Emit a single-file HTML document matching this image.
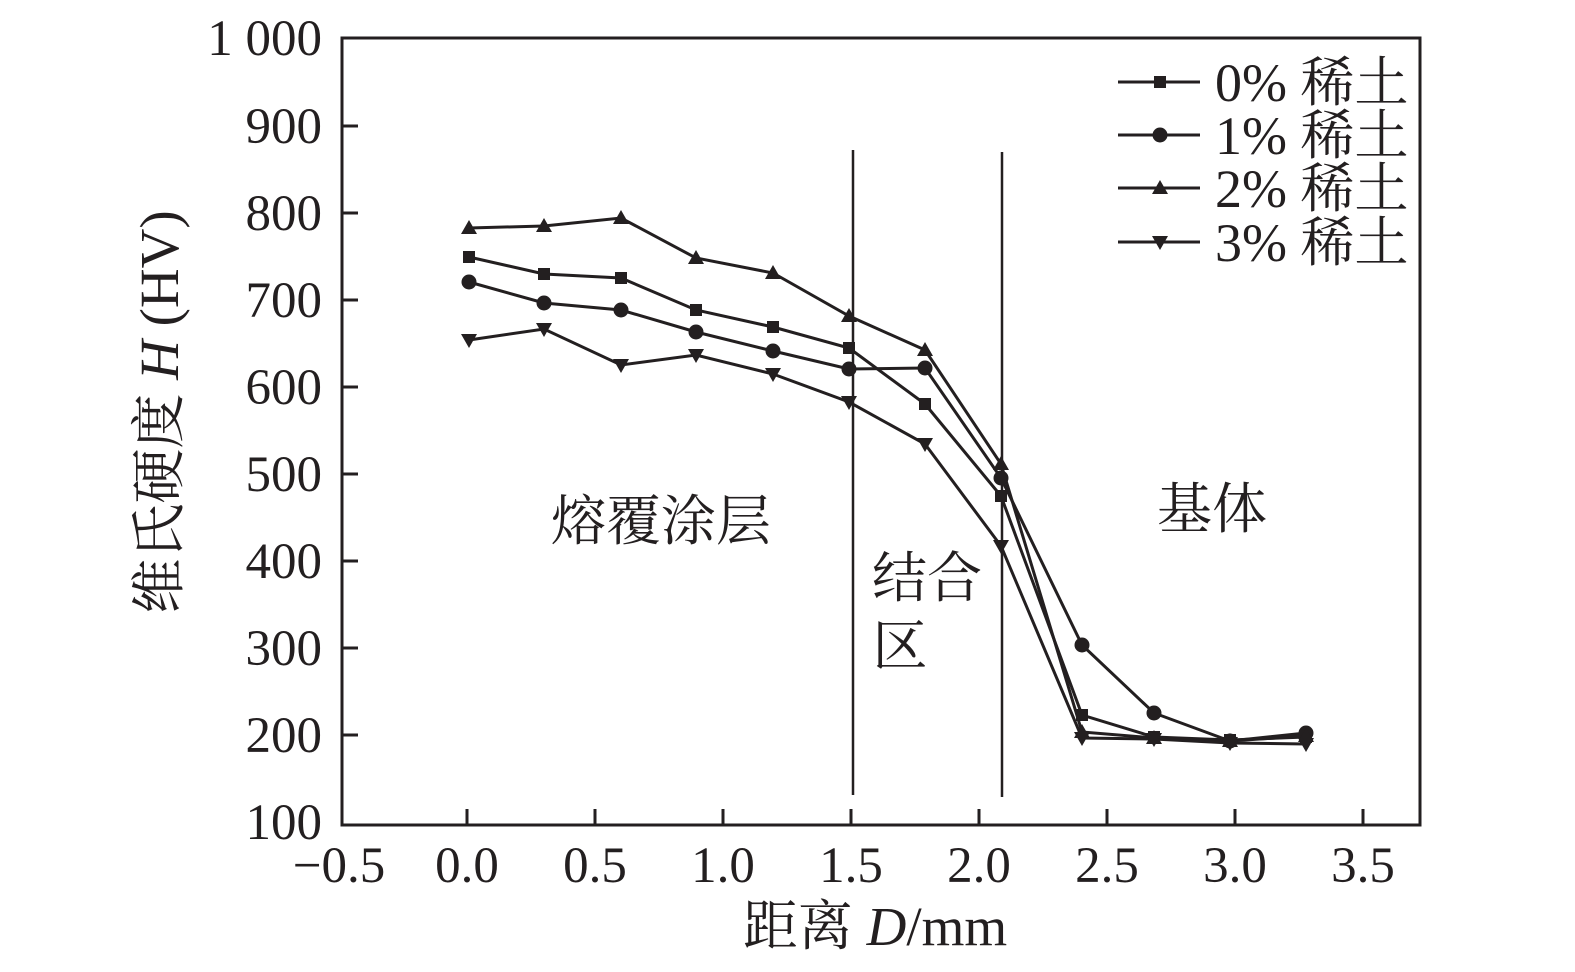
<!DOCTYPE html>
<html><head><meta charset="utf-8"><style>body{margin:0;background:#fff}</style></head><body>
<svg width="1575" height="967" xmlns="http://www.w3.org/2000/svg" font-family="'Liberation Serif','Noto Serif CJK SC',serif" fill="#231f20">
<rect width="1575" height="967" fill="#fff"/>
<g stroke="#231f20" stroke-width="3" fill="none">
<rect x="342" y="38" width="1078" height="787"/>
<path d="M342,126h16M342,213h16M342,300h16M342,387h16M342,474h16M342,561h16M342,648h16M342,735h16"/>
<path d="M467,825v-16M595,825v-16M723,825v-16M851,825v-16M979,825v-16M1107,825v-16M1235,825v-16M1363,825v-16"/>
<path d="M853,150V795M1002,152V797" stroke-width="2.5"/>
</g>
<g font-size="51" text-anchor="end">
<text x="322" y="55">1 000</text><text x="322" y="143">900</text><text x="322" y="230">800</text><text x="322" y="317">700</text><text x="322" y="404">600</text><text x="322" y="491">500</text><text x="322" y="578">400</text><text x="322" y="665">300</text><text x="322" y="752">200</text><text x="322" y="839">100</text>
</g>
<g font-size="51" text-anchor="middle">
<text x="339" y="882">−0.5</text><text x="467" y="882">0.0</text><text x="595" y="882">0.5</text><text x="723" y="882">1.0</text><text x="851" y="882">1.5</text><text x="979" y="882">2.0</text><text x="1107" y="882">2.5</text><text x="1235" y="882">3.0</text><text x="1363" y="882">3.5</text>
</g>
<g font-size="55" text-anchor="middle">
<text x="875" y="945">距离 <tspan font-style="italic">D</tspan>/mm</text>
<text transform="translate(178,412) rotate(-90)">维氏硬度 <tspan font-style="italic">H</tspan> (HV)</text>
<text x="661" y="540">熔覆涂层</text>
<text x="927" y="597">结合</text><text x="900" y="665">区</text>
<text x="1212" y="528">基体</text>
</g>
<g stroke="#231f20" stroke-width="3" fill="none">
<polyline points="469,257 544,274 621,278 696,310 773,327 849,348 925,404 1001,496 1082,715 1154,737 1230,740 1306,737"/>
<polyline points="469,282 544,303 621,310 696,332 773,351 849,369 925,368 1001,478 1082,645 1154,713 1230,741 1306,733"/>
<polyline points="469,228 544,226 621,218 696,258 773,273 849,316 925,350 1001,464 1082,732 1154,738 1230,741 1306,736"/>
<polyline points="469,340 544,329 621,365 696,355 773,374 849,402 925,444 1001,546 1082,738 1154,739 1230,743 1306,744"/>
<path d="M1118,82h82M1118,135h82M1118,188h82M1118,242h82"/>
</g>
<g>
<rect x="1154" y="76" width="12" height="12"/>
<rect x="463" y="251" width="12" height="12"/><rect x="538" y="268" width="12" height="12"/><rect x="615" y="272" width="12" height="12"/><rect x="690" y="304" width="12" height="12"/><rect x="767" y="321" width="12" height="12"/><rect x="843" y="342" width="12" height="12"/><rect x="919" y="398" width="12" height="12"/><rect x="995" y="490" width="12" height="12"/><rect x="1076" y="709" width="12" height="12"/><rect x="1148" y="731" width="12" height="12"/><rect x="1224" y="734" width="12" height="12"/><rect x="1300" y="731" width="12" height="12"/>
<circle cx="1160" cy="135" r="7.5"/>
<circle cx="469" cy="282" r="7.5"/><circle cx="544" cy="303" r="7.5"/><circle cx="621" cy="310" r="7.5"/><circle cx="696" cy="332" r="7.5"/><circle cx="773" cy="351" r="7.5"/><circle cx="849" cy="369" r="7.5"/><circle cx="925" cy="368" r="7.5"/><circle cx="1001" cy="478" r="7.5"/><circle cx="1082" cy="645" r="7.5"/><circle cx="1154" cy="713" r="7.5"/><circle cx="1230" cy="741" r="7.5"/><circle cx="1306" cy="733" r="7.5"/>
<path d="M1160,180l8,14h-16z M469,220l8,14h-16z M544,218l8,14h-16z M621,210l8,14h-16z M696,250l8,14h-16z M773,265l8,14h-16z M849,308l8,14h-16z M925,342l8,14h-16z M1001,456l8,14h-16z M1082,724l8,14h-16z M1154,730l8,14h-16z M1230,733l8,14h-16z M1306,728l8,14h-16z"/>
<path d="M1160,250l8,-14h-16z M469,348l8,-14h-16z M544,337l8,-14h-16z M621,373l8,-14h-16z M696,363l8,-14h-16z M773,382l8,-14h-16z M849,410l8,-14h-16z M925,452l8,-14h-16z M1001,554l8,-14h-16z M1082,746l8,-14h-16z M1154,747l8,-14h-16z M1230,751l8,-14h-16z M1306,752l8,-14h-16z"/>
</g>
<g font-size="54">
<text x="1215" y="101">0% 稀土</text><text x="1215" y="154">1% 稀土</text><text x="1215" y="207">2% 稀土</text><text x="1215" y="261">3% 稀土</text>
</g>
</svg>
</body></html>
